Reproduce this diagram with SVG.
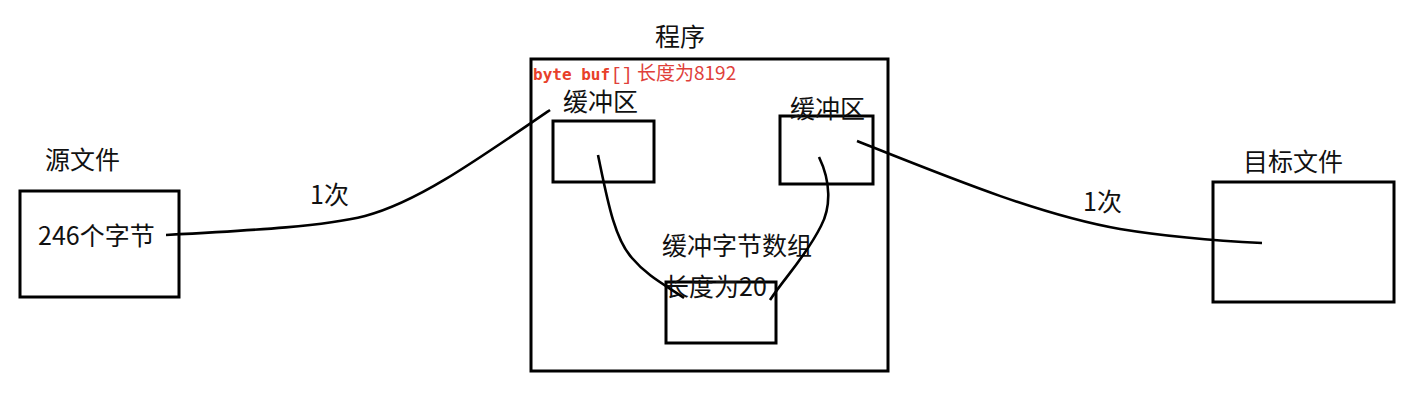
<svg xmlns="http://www.w3.org/2000/svg" width="1415" height="412" viewBox="0 0 1415 412">
<style>
.box{fill:none;stroke:#000;stroke-width:3}
.wire{fill:none;stroke:#000;stroke-width:2.6;stroke-linecap:butt}
.t{font-family:"Noto Sans CJK SC","Microsoft YaHei",sans-serif;font-size:25px;fill:#111}
.red{font-family:"Noto Sans CJK SC",sans-serif;font-size:19px;fill:#e0403a}
.code{font-family:"DejaVu Sans Mono",monospace;font-size:16px;font-weight:bold;fill:#e8402a}
.br{font-family:"Liberation Mono",monospace;font-size:18px;fill:#e0403a}
</style>
<rect width="1415" height="412" fill="#fff"/>
<g id="source">
<rect class="box" x="20" y="191" width="159" height="106"/>
<text class="t" x="45" y="169">源文件</text>
<text class="t" x="38" y="245">246个字节</text>
</g>
<g id="program">
<rect class="box" x="531" y="59" width="357" height="312"/>
<text class="t" x="655" y="46">程序</text>
<text x="533" y="80"><tspan class="code">byte buf</tspan><tspan class="br" x="611">[]</tspan><tspan class="red" x="637">长度为8192</tspan></text>
</g>
<g id="buffer-left">
<rect class="box" x="553" y="121" width="101" height="61"/>
<text class="t" x="563" y="111">缓冲区</text>
</g>
<g id="buffer-right">
<rect class="box" x="780" y="116" width="93" height="68"/>
<text class="t" x="790" y="118">缓冲区</text>
</g>
<g id="byte-array">
<rect class="box" x="666" y="282" width="110" height="61"/>
<text class="t" x="662" y="255">缓冲字节数组</text>
<text class="t" x="664" y="296">长度为20</text>
</g>
<g id="target">
<rect class="box" x="1213" y="182" width="181" height="120"/>
<text class="t" x="1243" y="171">目标文件</text>
</g>
<g id="connectors">
<path class="wire" d="M166,235 C260,230 325,226 365,216 C415,203 470,165 550,110"/>
<path class="wire" d="M857,141 C950,178 1040,215 1120,229 C1175,238 1220,241 1262,243"/>
<path class="wire" d="M598,155 C607,198 614,238 632,258 C648,277 667,286 684,298"/>
<path class="wire" d="M819,157 C831,182 831,207 821,226 C806,256 786,276 770,300"/>
<text class="t" x="310" y="204">1次</text>
<text class="t" x="1083" y="211">1次</text>
</g>
</svg>
